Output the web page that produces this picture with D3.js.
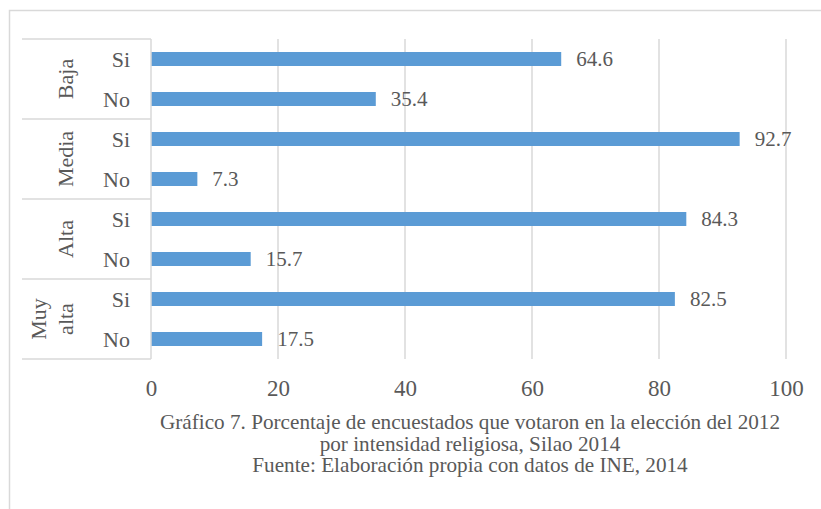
<!DOCTYPE html>
<html>
<head>
<meta charset="utf-8">
<script src="https://cdn.jsdelivr.net/npm/d3@7"></script>
<style>
  body { margin: 0; background: #fff; }
  svg text { font-family: "Liberation Serif", "Times New Roman", serif; fill: #595959; }
</style>
</head>
<body>
<svg id="chart" width="821" height="509"></svg>
<script>
// data
var groups = ["Baja", "Media", "Alta", "Muy alta"];
var answers = ["Si", "No"];
var baja = [64.6, 35.4];
var media = [92.7, 7.3];
var alta = [84.3, 15.7];
var muyAlta = [82.5, 17.5];
var ticks = [0, 20, 40, 60, 80, 100];
var caption = [
  "Gráfico 7. Porcentaje de encuestados que votaron en la elección del 2012",
  "por intensidad religiosa, Silao 2014",
  "Fuente: Elaboración propia con datos de INE, 2014"
];

var seriesByGroup = [baja, media, alta, muyAlta];
var rows = [];
groups.forEach((g, gi) => {
  answers.forEach((a, ai) => {
    rows.push({ key: g + "|" + a, group: g, answer: a, value: seriesByGroup[gi][ai] });
  });
});

var svg = d3.select("#chart");
var plotLeft = 151, plotRight = 786, plotTop = 39, plotBottom = 359;
var gridClr = "#d9d9d9";
var barClr = "#5b9bd5";

// outer chart frame (only top and left edges are visible)
svg.append("rect")
  .attr("x", 9.5).attr("y", 10.5)
  .attr("width", 830).attr("height", 520)
  .attr("fill", "none")
  .attr("stroke", gridClr)
  .attr("stroke-width", 1.5);

var x = d3.scaleLinear().domain([0, 100]).range([plotLeft, plotRight]);
var y = d3.scaleBand().domain(rows.map(d => d.key)).range([plotTop, plotBottom]).paddingInner(0.65).paddingOuter(0.325);

// vertical gridlines
svg.append("g").selectAll("line")
  .data(ticks.slice(1))
  .join("line")
  .attr("x1", d => x(d)).attr("x2", d => x(d))
  .attr("y1", plotTop).attr("y2", plotBottom)
  .attr("stroke", gridClr).attr("stroke-width", 1.5);

// bars
svg.append("g").selectAll("rect")
  .data(rows)
  .join("rect")
  .attr("x", x(0))
  .attr("y", d => y(d.key))
  .attr("width", d => x(d.value) - x(0))
  .attr("height", y.bandwidth())
  .attr("fill", barClr);

// value labels
svg.append("g").selectAll("text")
  .data(rows)
  .join("text")
  .attr("x", d => x(d.value) + 15)
  .attr("y", d => y(d.key) + y.bandwidth() / 2)
  .attr("dy", "0.35em")
  .style("font-size", "21px")
  .text(d => d.value.toFixed(1));

// x axis tick labels
var xAxis = svg.append("g")
  .attr("transform", "translate(0," + plotBottom + ")")
  .call(d3.axisBottom(x).tickValues(ticks).tickSize(0).tickPadding(21).tickFormat(d3.format("d")));
xAxis.select(".domain").remove();
xAxis.attr("font-family", null).attr("font-size", null);
xAxis.selectAll("text").style("font-size", "23px").attr("fill", null);

// category axis: line plus group separators
var rowH = (plotBottom - plotTop) / rows.length;
svg.append("line")
  .attr("x1", x(0)).attr("x2", x(0))
  .attr("y1", plotTop).attr("y2", plotBottom)
  .attr("stroke", gridClr).attr("stroke-width", 1.5);

svg.append("g").selectAll("line")
  .data(d3.range(groups.length + 1))
  .join("line")
  .attr("x1", 22).attr("x2", x(0))
  .attr("y1", i => plotTop + i * rowH * answers.length)
  .attr("y2", i => plotTop + i * rowH * answers.length)
  .attr("stroke", gridClr).attr("stroke-width", 1.5);

// inner level labels (Si / No)
svg.append("g").selectAll("text")
  .data(rows)
  .join("text")
  .attr("x", 130)
  .attr("y", d => y(d.key) + y.bandwidth() / 2)
  .attr("dy", "0.35em")
  .attr("text-anchor", "end")
  .style("font-size", "22px")
  .text(d => d.answer);

// outer level labels, rotated
var gl = svg.append("g").selectAll("text")
  .data(groups)
  .join("text")
  .attr("transform", (d, i) => {
    var cy = plotTop + (i + 0.5) * rowH * answers.length;
    return "translate(65," + cy + ") rotate(-90)";
  })
  .attr("text-anchor", "middle")
  .style("font-size", "22px");

gl.each(function (d) {
  var parts = d.split(" ");
  var t = d3.select(this);
  parts.forEach((p, k) => {
    t.append("tspan")
      .attr("x", 0)
      .attr("y", (k - (parts.length - 1)) * 27)
      .attr("dy", "0.35em")
      .text(p);
  });
});

// caption
svg.append("g").selectAll("text")
  .data(caption)
  .join("text")
  .attr("x", 470)
  .attr("y", (d, i) => 429 + i * 21.5)
  .attr("text-anchor", "middle")
  .style("font-size", "21.2px")
  .text(d => d);
</script>
</body>
</html>
